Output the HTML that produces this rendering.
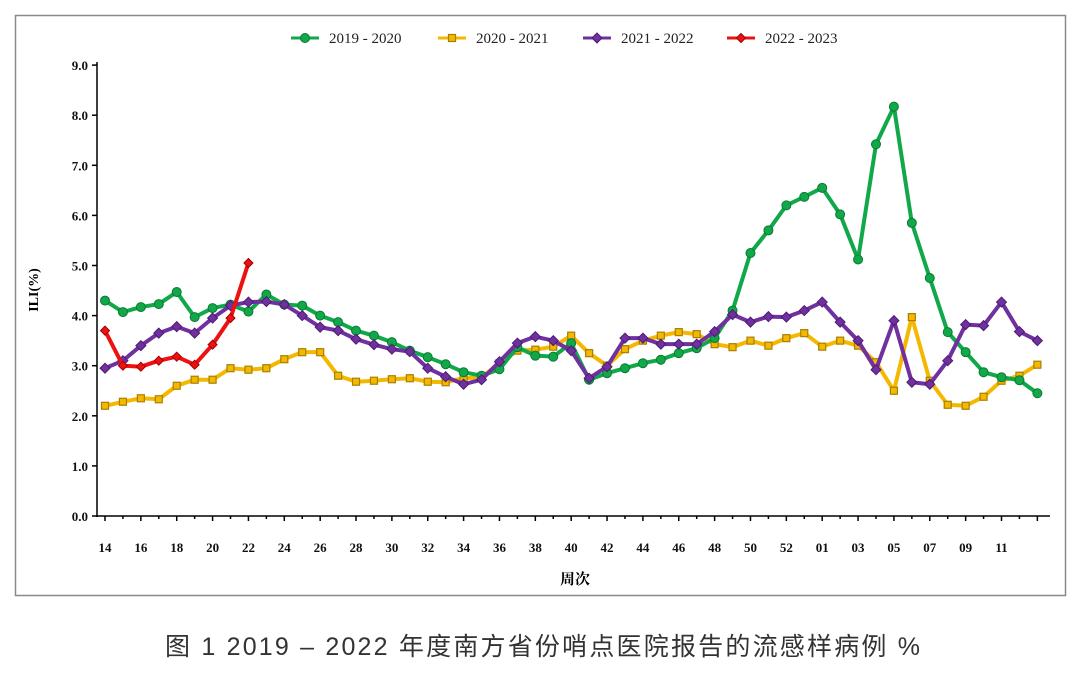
<!DOCTYPE html>
<html><head><meta charset="utf-8"><style>
body{margin:0;background:#fff;width:1080px;height:674px;overflow:hidden}
</style></head><body>
<svg width="1080" height="674" xmlns="http://www.w3.org/2000/svg" font-family="'Liberation Serif','Noto Serif CJK SC',serif">
<rect x="15.5" y="15.5" width="1050" height="580" fill="none" stroke="#8a8a8a" stroke-width="1.5"/>
<g id="axes" stroke="#000" stroke-width="1.5"></g>
<g id="lbl" font-size="13" font-weight="bold" fill="#111"></g>
<text x="575" y="584" font-size="15" font-weight="bold" text-anchor="middle">周次</text>
<text transform="translate(38,290) rotate(-90)" font-size="14" font-weight="bold" text-anchor="middle">ILI(%)</text>
<g id="series"></g>
<g id="legend" font-size="15" fill="#222"></g>
<text x="165" y="655" font-size="25" fill="#333" textLength="755" lengthAdjust="spacing" font-family="'Liberation Sans','Noto Sans CJK SC',sans-serif">图 1  2019  –  2022 年度南方省份哨点医院报告的流感样病例 %</text>
</svg>
<script>
const NS="http://www.w3.org/2000/svg";
function el(t,a,p){const e=document.createElementNS(NS,t);for(const k in a)e.setAttribute(k,a[k]);p.appendChild(e);return e;}
const X=i=>105+17.93*i, Y=v=>516-50.1*v;
const ax=document.getElementById('axes'),lb=document.getElementById('lbl'),sr=document.getElementById('series'),lg=document.getElementById('legend');
el('line',{x1:97,y1:62,x2:97,y2:517},ax);el('line',{x1:96,y1:516,x2:1050,y2:516},ax);
for(let v=0;v<=9;v++){el('line',{x1:92,y1:Y(v),x2:97,y2:Y(v)},ax);const t=el('text',{x:88,y:Y(v)+5,'text-anchor':'end'},lb);t.textContent=v.toFixed(1);}
const weeks=[];for(let w=14;w<=53;w++)weeks.push(w);for(let w=1;w<=13;w++)weeks.push(w);
weeks.forEach((w,i)=>{el('line',{x1:X(i),y1:516,x2:X(i),y2:i%2==0?521:519},ax);if(i%2==0&&i<52){const t=el('text',{x:X(i),y:552,'text-anchor':'middle'},lb);t.textContent=String(w).padStart(2,'0');}});
const G=[4.3,4.07,4.17,4.23,4.47,3.97,4.15,4.22,4.08,4.42,4.22,4.2,4.0,3.87,3.7,3.6,3.47,3.3,3.17,3.03,2.87,2.8,2.93,3.37,3.2,3.18,3.45,2.72,2.85,2.95,3.05,3.12,3.25,3.35,3.55,4.1,5.25,5.7,6.2,6.37,6.55,6.02,5.12,7.42,8.17,5.85,4.75,3.67,3.27,2.87,2.77,2.71,2.45];
const Yl=[2.2,2.28,2.35,2.33,2.6,2.72,2.72,2.95,2.92,2.95,3.13,3.27,3.27,2.8,2.68,2.7,2.73,2.75,2.68,2.67,2.75,2.77,3.05,3.3,3.32,3.38,3.6,3.25,3.0,3.33,3.5,3.6,3.67,3.63,3.43,3.37,3.5,3.4,3.55,3.65,3.38,3.5,3.4,3.07,2.5,3.97,2.7,2.22,2.2,2.38,2.7,2.8,3.02];
const P=[2.95,3.1,3.4,3.65,3.78,3.65,3.95,4.2,4.27,4.28,4.22,4.0,3.77,3.7,3.53,3.42,3.33,3.28,2.95,2.78,2.63,2.72,3.08,3.45,3.58,3.5,3.3,2.75,2.98,3.55,3.55,3.43,3.43,3.43,3.68,4.02,3.87,3.98,3.97,4.1,4.27,3.87,3.5,2.92,3.9,2.67,2.63,3.1,3.82,3.8,4.27,3.68,3.5];
const R=[3.7,3.0,2.98,3.1,3.18,3.02,3.42,3.95,5.05];
function marker(type,x,y,c,mc,p){
 if(type=='c')el('circle',{cx:x,cy:y,r:4.5,fill:c,stroke:mc,'stroke-width':1},p);
 else if(type=='s')el('rect',{x:x-3.5,y:y-3.5,width:7,height:7,fill:c,stroke:mc,'stroke-width':1.2},p);
 else {const s=type=='d'?5:4.5;el('polygon',{points:`${x},${y-s} ${x+s},${y} ${x},${y+s} ${x-s},${y}`,fill:c,stroke:mc,'stroke-width':1},p);}
}
function series(d,c,mc,type){
 el('polyline',{points:d.map((v,i)=>X(i)+','+Y(v)).join(' '),fill:'none',stroke:c,'stroke-width':4,'stroke-linejoin':'round'},sr);
 d.forEach((v,i)=>marker(type,X(i),Y(v),c,mc,sr));
}
series(Yl,'#f5b800','#a88000','s');
series(G,'#11a84a','#0a7a33','c');
series(P,'#7030a0','#4b1d70','d');
series(R,'#ee1111','#a00000','r');
const L=[['2019 - 2020','#11a84a','#0a7a33','c',305],['2020 - 2021','#f5b800','#a88000','s',452],['2021 - 2022','#7030a0','#4b1d70','d',597],['2022 - 2023','#ee1111','#a00000','r',741]];
L.forEach(([t,c,mc,ty,x])=>{el('line',{x1:x-14,y1:38,x2:x+14,y2:38,stroke:c,'stroke-width':3},lg);marker(ty,x,38,c,mc,lg);const e=el('text',{x:x+24,y:43},lg);e.textContent=t;});
</script>
</body></html>
